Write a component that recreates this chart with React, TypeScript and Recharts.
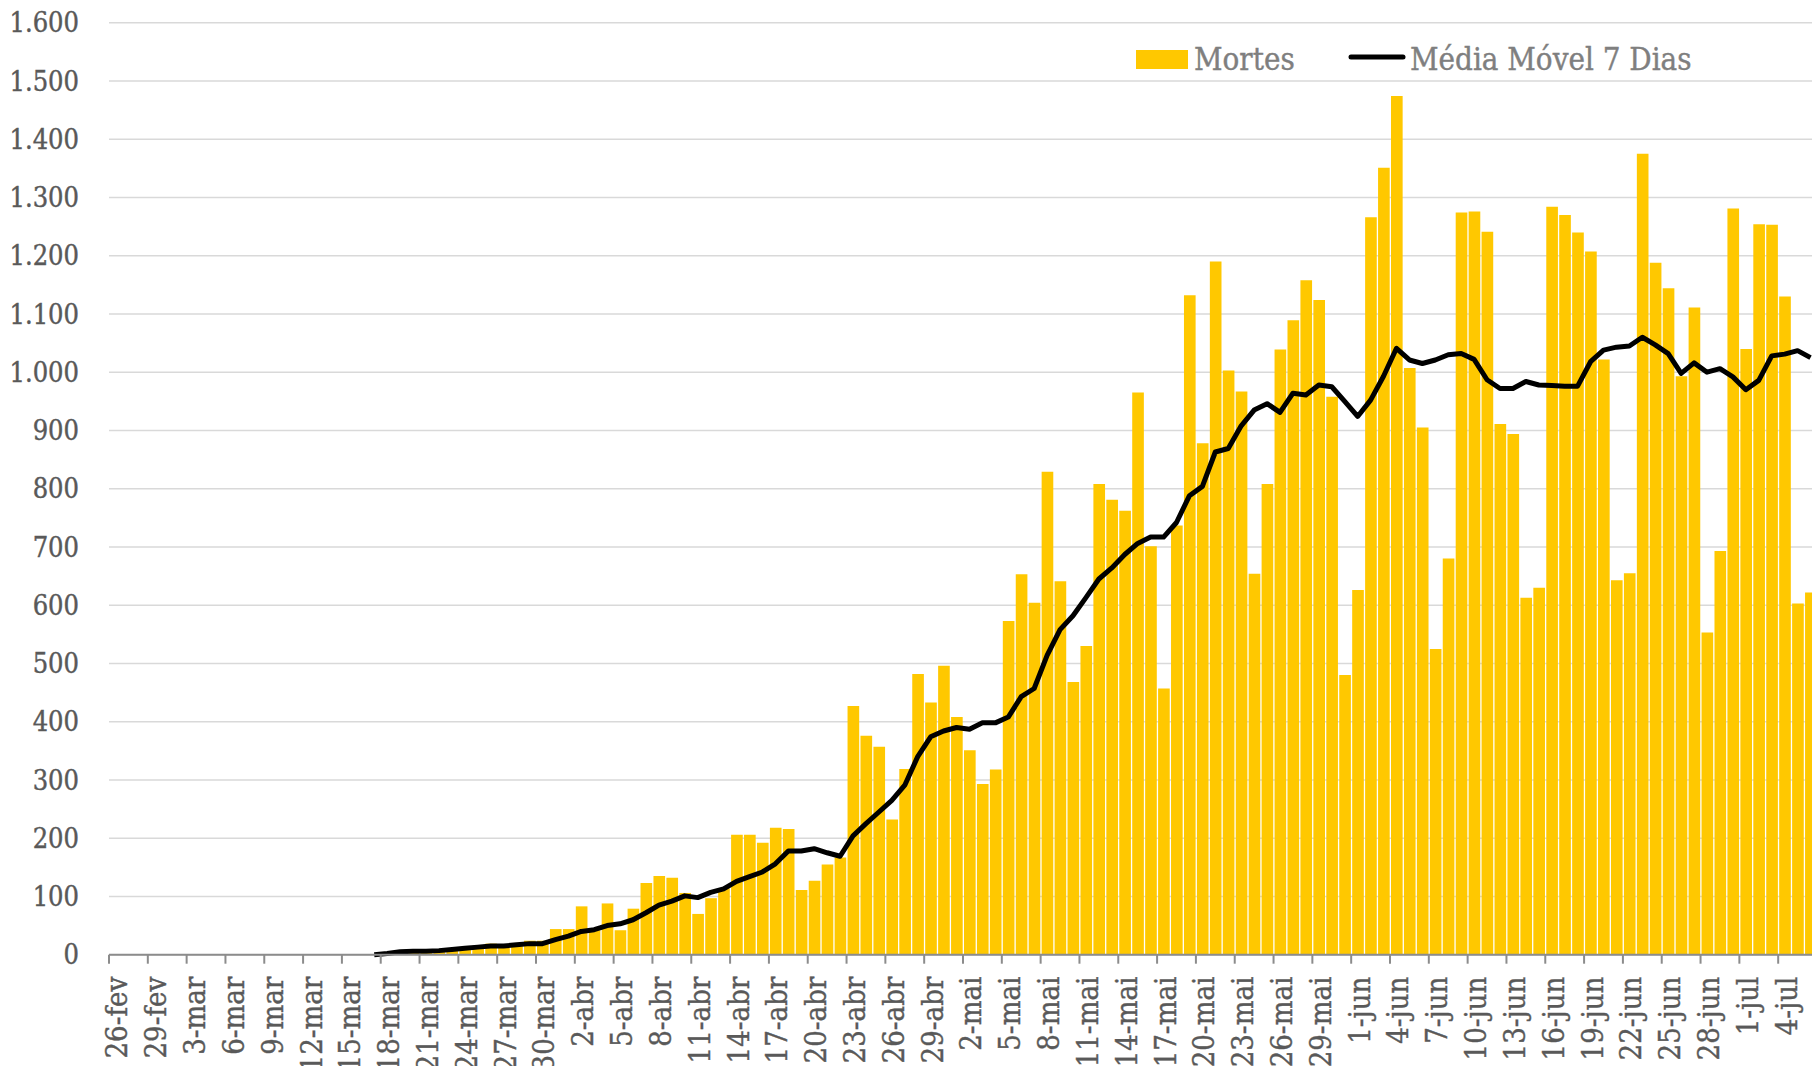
import { ComposedChart, Bar, Line, XAxis, YAxis, CartesianGrid, Legend } from "recharts";

const meses: [string, number, number][] = [
  ["fev", 26, 29],
  ["mar", 1, 31],
  ["abr", 1, 30],
  ["mai", 1, 31],
  ["jun", 1, 30],
  ["jul", 1, 6],
];

const dias: string[] = meses.flatMap(([mes, ini, fim]) =>
  Array.from({ length: fim - ini + 1 }, (_, i) => `${ini + i}-${mes}`)
);

// mortes diárias (26-fev a 6-jul)
const mortes: number[] = [
  0, 0, 0, 0, 0, 0, 0, 0, 0, 0, 0, 0, 0, 0, 0, 0, 0, 0, 0, 0,
  1, 3, 4, 6, 9, 9, 10, 13, 11, 19, 14, 19, 24, 24, 44,
  44, 83, 42, 88, 42, 79, 123, 135, 132, 106, 70, 97, 114, 206, 206,
  192, 218, 216, 111, 127, 155, 167, 427, 376, 357, 232, 319, 482, 433, 496,
  408, 351, 293, 318, 573, 653, 604, 829, 641, 468, 530, 808, 781, 762, 965,
  701, 457, 737, 1132, 878, 1190, 1003, 967, 654, 808, 1039, 1089, 1158, 1124, 958,
  480, 626, 1266, 1351, 1474, 1007, 905, 525, 680, 1274, 1276, 1241, 911, 894, 613,
  630, 1284, 1270, 1240, 1207, 1022, 643, 655, 1375, 1188, 1144, 993, 1111, 553, 693,
  1281, 1040, 1254, 1253, 1130, 603, 622,
];

// média móvel de 7 dias
const mediaMovel: (number | null)[] = [
  null, null, null, null, null, null, null, null, null, null,
  null, null, null, null, null, null, null, null, null, null,
  0, 2, 5, 6, 6, 7, 9, 11, 13, 15, 15, 17, 19, 19, 26,
  32, 40, 43, 50, 53, 60, 72, 85, 92, 101, 98, 107, 113, 126, 134,
  142, 156, 178, 178, 182, 175, 169, 204, 225, 245, 265, 291, 340, 374, 384,
  390, 387, 398, 398, 408, 443, 457, 514, 558, 582, 613, 645, 664, 687, 706,
  717, 717, 742, 788, 804, 863, 869, 908, 935, 946, 931, 964, 961, 978, 975,
  950, 924, 952, 993, 1041, 1021, 1015, 1021, 1030, 1032, 1022, 987, 972, 972, 984,
  978, 977, 976, 976, 1018, 1038, 1043, 1045, 1060, 1047, 1032, 998, 1016, 1000, 1006,
  992, 970, 986, 1028, 1031, 1037, 1025,
];

const yTicks = [0, 100, 200, 300, 400, 500, 600, 700, 800, 900, 1000, 1100, 1200, 1300, 1400, 1500, 1600];

const data = dias.map((dia, i) => ({ dia, mortes: mortes[i], media: mediaMovel[i] }));

const AMARELO = "#FFC800";
const CINZA = "#595959";
const FONTE = "'DejaVu Serif Condensed', 'DejaVu Serif', serif";
const LEFT = 109;
const PLOT_W = 1708;
const BAND = PLOT_W / dias.length;

const milhar = (v: number) =>
  v >= 1000 ? `${Math.floor(v / 1000)}.${String(v % 1000).padStart(3, "0")}` : String(v);

function DiaTick(props: any) {
  const { x, y, payload } = props;
  return (
    <g>
      <line x1={x - BAND / 2} x2={x - BAND / 2} y1={y} y2={y + 9} stroke="#8c8c8c" strokeWidth={2} />
      <text
        transform={`translate(${x + 2},${y + 22}) rotate(-90)`}
        textAnchor="end"
        dominantBaseline="central"
        fill={CINZA}
        stroke={CINZA}
        strokeWidth={0.4}
        fontSize={29}
        fontFamily={FONTE}
      >
        {payload.value}
      </text>
    </g>
  );
}

function Legenda() {
  const texto = {
    position: "absolute" as const,
    top: 4,
    whiteSpace: "nowrap" as const,
    WebkitTextStroke: "0.4px #7f7f7f",
  };
  return (
    <div style={{ position: "relative", width: 660, height: 44, fontFamily: FONTE, fontSize: 31, color: "#7f7f7f", lineHeight: "31px" }}>
      <span style={{ position: "absolute", left: 0, top: 10, width: 52, height: 19, background: AMARELO }} />
      <span style={{ ...texto, left: 58 }}>Mortes</span>
      <svg style={{ position: "absolute", left: 212, top: 12 }} width={58} height={10}>
        <line x1={3} x2={55} y1={5} y2={5} stroke="#000" strokeWidth={5} strokeLinecap="round" />
      </svg>
      <span style={{ ...texto, left: 274 }}>Média Móvel 7 Dias</span>
    </div>
  );
}

export default function App() {
  return (
    <div style={{ position: "absolute", left: 0, top: 0, width: 1812, height: 1066, overflow: "hidden", background: "#fff" }}>
      <ComposedChart
        width={LEFT + PLOT_W + 13}
        height={1130}
        data={data}
        margin={{ top: 22.7, right: 13, left: 0, bottom: 0 }}
        barCategoryGap={0}
        barGap={0}
      >
        <CartesianGrid vertical={false} stroke="#d9d9d9" strokeWidth={1.5} />
        <XAxis
          dataKey="dia"
          interval={2}
          height={175.3}
          tickLine={false}
          tickSize={0}
          tickMargin={0}
          axisLine={{ stroke: "#8c8c8c", strokeWidth: 2 }}
          tick={DiaTick}
        />
        <YAxis
          width={LEFT}
          domain={[0, 1600]}
          ticks={yTicks}
          interval={0}
          axisLine={false}
          tickLine={false}
          tickSize={0}
          tickMargin={30}
          tickFormatter={milhar}
          tick={{ fill: CINZA, stroke: CINZA, strokeWidth: 0.4, fontSize: 27, fontFamily: FONTE }}
        />
        <Legend
          layout="horizontal"
          verticalAlign="middle"
          align="center"
          content={Legenda}
          wrapperStyle={{ top: 40, left: 1136, width: 660 }}
        />
        <Bar dataKey="mortes" name="Mortes" fill={AMARELO} barSize={13} isAnimationActive={false} />
        <Line
          dataKey="media"
          name="Média Móvel 7 Dias"
          type="linear"
          stroke="#000"
          strokeWidth={5}
          strokeLinejoin="round"
          dot={false}
          activeDot={false}
          connectNulls={false}
          isAnimationActive={false}
        />
      </ComposedChart>
    </div>
  );
}
